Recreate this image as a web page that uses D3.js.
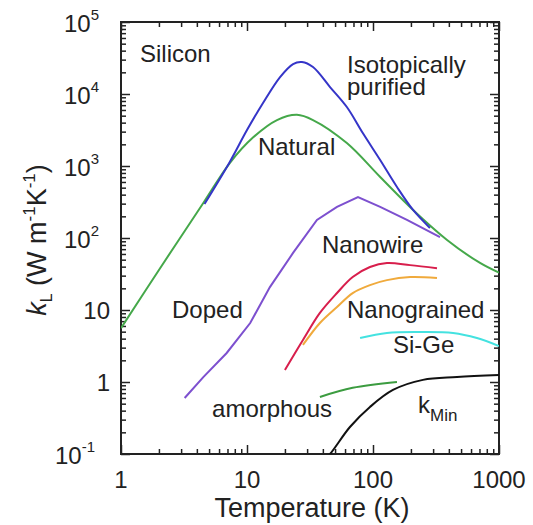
<!DOCTYPE html>
<html>
<head>
<meta http-equiv="Content-type" content="text/html; charset=utf-8">
<title>Silicon thermal conductivity</title>
<script src="https://cdn.jsdelivr.net/npm/d3@7/dist/d3.min.js"></script>
<style>
  body { margin: 0; background: #fff; }
  text { font-family: "Liberation Sans", Arial, Helvetica, sans-serif; fill: #222; }
</style>
</head>
<body>
<script type="text/javascript">

  // DATA (temperature in K, lattice conductivity in W/m/K)
  var isoT = [4.6, 7.3, 10, 13.4, 18.3, 23.2, 27.3, 33.4, 45.6, 62, 83, 114, 155, 208, 283];
  var isoK = [297, 1140, 3160, 7500, 17200, 26100, 27800, 23700, 12500, 6600, 2870, 1210, 511, 245, 138];

  var natT = [1, 2, 4.5, 7.3, 11.2, 17.3, 24.9, 33.4, 62, 114, 208, 387, 707, 1000];
  var natK = [5.6, 36, 306, 1100, 2500, 4350, 5140, 4350, 2080, 703, 245, 94, 45, 33];

  var wireT = [3.2, 4.5, 6.9, 10.6, 15.2, 23.2, 35.9, 51.8, 76, 114, 186, 340];
  var wireK = [0.6, 1.17, 2.53, 6.6, 20.8, 62, 178, 270, 371, 270, 178, 103];

  var grainRedT = [20, 27.8, 37.9, 51.8, 69, 94.6, 129, 197, 322];
  var grainRedK = [1.47, 3.83, 9.1, 17.2, 28.7, 39.5, 45, 42, 38];

  var grainOrT = [27.8, 37.9, 51.8, 69, 94.6, 129, 197, 322];
  var grainOrK = [3.27, 6.6, 11, 17.2, 22.2, 26, 28.7, 27.8];

  var sigeT = [79, 129, 236, 432, 668, 1000];
  var sigeK = [4.08, 4.8, 4.95, 4.8, 4.08, 3.16];

  var amorT = [37.9, 69, 155];
  var amorK = [0.62, 0.83, 1.0];

  var kminT = [40, 45.6, 65.6, 94.6, 144, 249, 464, 1000];
  var kminK = [0.08, 0.1, 0.237, 0.45, 0.775, 1.07, 1.17, 1.25];

  var xTicks = [1, 10, 100, 1000];
  var yTicks = [0.1, 1, 10, 100, 1000, 10000, 100000];

  //GLOBAL LAYOUT VARS
  var W = 533, H = 525;
  var padL = 121, padT = 22, pw = 378, ph = 432;

  var x = d3.scaleLog().domain([1, 1000]).range([padL, padL + pw]);
  var y = d3.scaleLog().domain([0.1, 100000]).range([padT + ph, padT]);

  var svg = d3.select("body").append("svg").attr("width", W).attr("height", H);

  function minors(lo, hi) {
    var out = [];
    for (var d = lo; d < hi; d *= 10) {
      for (var m = 2; m <= 9; m++) out.push(d * m);
    }
    return out;
  }
  var xMinor = minors(1, 1000);
  var yMinor = minors(0.1, 100000);

  // ticks, all pointing inward
  function tickAxis(axis, tr) {
    var g = svg.append("g").attr("transform", tr).call(axis);
    g.selectAll("text").remove();
    g.select(".domain").remove();
    g.selectAll("line").attr("stroke", "#222").attr("stroke-width", 1.5);
    return g;
  }
  var bot = "translate(0," + (padT + ph) + ")", tp = "translate(0," + padT + ")";
  var lf = "translate(" + padL + ",0)", rt = "translate(" + (padL + pw) + ",0)";

  tickAxis(d3.axisBottom(x).tickValues(xTicks).tickSize(-9), bot);
  tickAxis(d3.axisBottom(x).tickValues(xMinor).tickSize(-5), bot);
  tickAxis(d3.axisTop(x).tickValues(xTicks).tickSize(-9), tp);
  tickAxis(d3.axisTop(x).tickValues(xMinor).tickSize(-5), tp);
  tickAxis(d3.axisLeft(y).tickValues(yTicks).tickSize(-9), lf);
  tickAxis(d3.axisLeft(y).tickValues(yMinor).tickSize(-5), lf);
  tickAxis(d3.axisRight(y).tickValues(yTicks).tickSize(-9), rt);
  tickAxis(d3.axisRight(y).tickValues(yMinor).tickSize(-5), rt);

  svg.append("rect")
    .attr("x", padL).attr("y", padT).attr("width", pw).attr("height", ph)
    .attr("fill", "none").attr("stroke", "#222").attr("stroke-width", 2);

  // tick labels
  svg.selectAll(".xl").data(xTicks).enter().append("text")
    .attr("class", "xl")
    .attr("x", function(d) { return x(d); })
    .attr("y", padT + ph + 34)
    .attr("text-anchor", "middle")
    .style("font-size", "24px")
    .text(function(d) { return d; });

  yTicks.forEach(function(d) {
    var e = Math.round(Math.log10(d));
    if (e === 0 || e === 1) {
      svg.append("text").attr("x", padL - 11).attr("y", y(d) + 9)
        .attr("text-anchor", "end").style("font-size", "24px").text(d);
    } else {
      var t = svg.append("text").attr("x", padL - 22 - (e < 0 ? 4 : 0)).attr("y", y(d) + 10)
        .attr("text-anchor", "end").style("font-size", "24px");
      t.append("tspan").text("10");
      t.append("tspan").attr("dy", -12).style("font-size", "15px").text(e < 0 ? "-" + (-e) : e);
    }
  });

  // axis titles
  svg.append("text").attr("x", padL + pw / 2 + 2).attr("y", 517)
    .attr("text-anchor", "middle").style("font-size", "27px").text("Temperature (K)");

  var yt = svg.append("text")
    .attr("transform", "translate(46,240) rotate(-90)")
    .attr("text-anchor", "middle").style("font-size", "27px");
  yt.append("tspan").style("font-style", "italic").text("k");
  yt.append("tspan").attr("dy", 6).style("font-size", "16px").text("L");
  yt.append("tspan").attr("dy", -6).text(" (W m");
  yt.append("tspan").attr("dy", -11).style("font-size", "17px").text("-1");
  yt.append("tspan").attr("dy", 11).text("K");
  yt.append("tspan").attr("dy", -11).style("font-size", "17px").text("-1");
  yt.append("tspan").attr("dy", 11).text(")");

  // curves
  svg.append("clipPath").attr("id", "plotclip").append("rect")
    .attr("x", padL).attr("y", padT).attr("width", pw).attr("height", ph);
  var plot = svg.append("g").attr("clip-path", "url(#plotclip)");

  var series = [
    {t: natT, k: natK, color: "#45a84a", curve: d3.curveCatmullRom},
    {t: isoT, k: isoK, color: "#3535c8", curve: d3.curveCatmullRom},
    {t: wireT, k: wireK, color: "#7d50cf", curve: d3.curveLinear},
    {t: grainOrT, k: grainOrK, color: "#f0aa3c", curve: d3.curveCatmullRom},
    {t: grainRedT, k: grainRedK, color: "#d81e4c", curve: d3.curveCatmullRom},
    {t: sigeT, k: sigeK, color: "#44e2e0", curve: d3.curveCatmullRom},
    {t: amorT, k: amorK, color: "#3c9c40", curve: d3.curveCatmullRom},
    {t: kminT, k: kminK, color: "#111111", curve: d3.curveCatmullRom}
  ];

  series.forEach(function(s) {
    var pts = s.t.map(function(tv, i) { return [tv, s.k[i]]; });
    var line = d3.line()
      .x(function(d) { return x(d[0]); })
      .y(function(d) { return y(d[1]); })
      .curve(s.curve);
    plot.append("path").attr("d", line(pts))
      .attr("fill", "none").attr("stroke", s.color).attr("stroke-width", 2);
  });

  // curve labels, anchored in data units
  var labelText = ["Silicon", "Isotopically", "purified", "Natural", "Nanowire", "Doped", "Nanograined", "Si-Ge", "amorphous"];
  var labelT = [1.415, 62.2, 62.2, 12.2, 39.4, 2.54, 62.2, 144, 5.28];
  var labelK = [27800, 19600, 9680, 1420, 62, 7.74, 7.74, 2.53, 0.327];

  labelText.forEach(function(s, i) {
    svg.append("text").attr("x", x(labelT[i])).attr("y", y(labelK[i]))
      .style("font-size", "24px").text(s);
  });

  var km = svg.append("text").attr("x", x(228)).attr("y", y(0.371)).style("font-size", "24px");
  km.append("tspan").text("k");
  km.append("tspan").attr("dy", 8).style("font-size", "17px").text("Min");

</script>
</body>
</html>
